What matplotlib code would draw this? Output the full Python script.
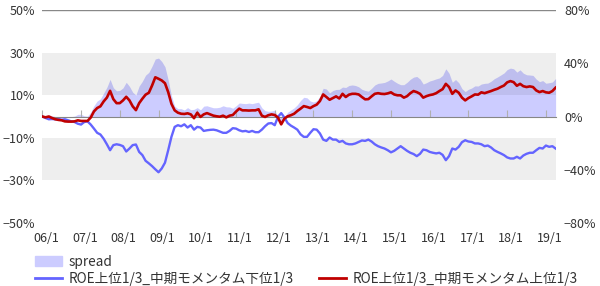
import matplotlib.pyplot as plt
import matplotlib.ticker as mticker
import matplotlib.transforms as mtransforms
from matplotlib.lines import Line2D
from matplotlib.patches import Patch
import numpy as np

plt.rcParams['font.family'] = ['Noto Sans CJK JP', 'DejaVu Sans']

# monthly cumulative returns (%), 2006/1 .. 2019/4
roe_mom_high = [
    0, -0.4, 0, -0.7, -1.3, -1.6, -1.8, -2.3, -2.4, -2.4, -2.3, -1.8, -2.1, -2.1, -2.1,
    -0.5, 2.4, 4.0, 4.8, 7.1, 8.9, 12.1, 8.2, 6.3, 6.3, 7.6, 9.3,
    7.6, 4.8, 3.0, 6.3, 8.4, 10.3, 11.2, 14.6, 18.5, 17.8, 17.0, 15.7, 11.5, 6.0, 2.9,
    1.8, 1.3, 1.2, 1.5, 1.0, -0.8, 1.8, -0.2, 1.0, 1.6, 1.0, 0.4,
    0.1, -0.1, 0.4, -0.4, 0.4, 0.7, 2.3, 3.7, 2.9, 2.9, 2.8, 2.9, 2.9, 3.4,
    0.4, -0.2, 0.6, 1.0, 0.7, -0.5, -3.7, -1.0, 0.1, 0.6, 1.3, 2.6, 3.7, 4.9,
    4.5, 4.0, 4.9, 5.6, 7.3, 10.4, 9.2, 7.9, 8.7, 9.5, 8.5, 10.7, 9.2, 10.3,
    10.7, 10.7, 10.4, 9.2, 8.1, 8.2, 9.5, 10.7, 11.0, 10.7, 10.6, 10.9, 11.4,
    10.4, 10.0, 10.0, 8.9, 9.6, 11.0, 12.0, 11.5, 10.7, 8.9, 9.6, 10.1, 10.4, 11.0,
    12.0, 12.9, 15.4, 13.9, 10.7, 12.3, 11.2, 8.9, 7.6, 8.7, 9.5, 10.4, 10.3,
    11.4, 11.0, 11.5, 12.0, 12.6, 13.1, 13.9, 14.6, 16.1, 16.7, 16.2, 14.5,
    15.4, 14.3, 13.9, 14.2, 13.9, 12.3, 11.5, 12.0, 11.4, 11.2, 12.0, 13.6,
]
roe_mom_low = [
    0, -0.7, -1.3, -1.2, -1.3, -1.2, -1.5, -1.3, -1.8, -2.3, -2.6, -3.4, -3.8, -2.6, -2.3,
    -3.8, -5.7, -7.7, -8.5, -10.5, -13.1, -15.9, -13.5, -13.1, -13.4, -14.0, -16.5,
    -15.1, -13.5, -13.2, -16.7, -18.2, -20.9, -22.1, -23.4, -24.9, -26.3, -24.5, -21.8,
    -15.9, -9.6, -4.9, -4.1, -4.6, -3.7, -5.2, -4.1, -6.2, -4.9, -5.2, -6.8, -6.5, -6.3, -6.2,
    -6.5, -7.1, -7.7, -7.7, -6.8, -5.5, -5.7, -6.5, -7.0, -6.8, -7.3, -6.8, -7.4, -7.4,
    -6.2, -4.6, -3.3, -3.1, -4.1, -0.2, 1.6, -0.5, -3.1, -4.3, -5.2, -6.2, -8.4, -9.6,
    -9.6, -7.7, -6.0, -6.2, -8.0, -10.9, -11.5, -9.9, -10.9, -10.9, -12.0, -11.5, -12.7,
    -13.1, -13.1, -12.7, -12.0, -11.3, -11.5, -10.9, -11.8, -13.1, -14.0, -14.6, -15.1, -15.9, -16.9,
    -16.2, -15.1, -14.0, -15.1, -16.2, -17.1, -17.7, -18.7, -17.6, -15.6, -15.9, -16.7, -17.1,
    -17.4, -17.1, -18.1, -20.6, -18.7, -15.1, -15.6, -14.3, -12.1, -11.2, -11.8, -12.0, -12.7, -12.7,
    -13.1, -14.0, -13.7, -14.6, -15.9, -16.7, -17.4, -18.2, -19.3, -19.8, -19.8, -19.0,
    -19.8, -18.4, -17.6, -17.1, -17.1, -15.9, -14.8, -15.1, -13.7, -14.3, -14.0, -15.1,
]
year_labels = ['06/1', '07/1', '08/1', '09/1', '10/1', '11/1', '12/1',
               '13/1', '14/1', '15/1', '16/1', '17/1', '18/1', '19/1']
label_low = 'ROE上位1/3_中期モメンタム下位1/3'
label_high = 'ROE上位1/3_中期モメンタム上位1/3'

x = np.arange(len(roe_mom_high))
spread = np.array(roe_mom_high) - np.array(roe_mom_low)

fig = plt.figure(figsize=(6, 2.86), dpi=100)
ax = fig.add_axes([0.0705, 0.222, 0.8555, 0.7413])
ax2 = ax.twinx()
ax.set_zorder(ax2.get_zorder() + 1)
ax.patch.set_visible(False)

# spread on the right axis
ax2.fill_between(x, 0, spread, color='#ccccff', lw=0)
ax2.set_ylim(-80, 80)
ax2.set_yticks([-80, -40, 0, 40, 80])
ax2.yaxis.set_major_formatter(mticker.StrMethodFormatter('{x:.0f}%'))
ax2.tick_params(axis='y', length=0, pad=6, labelsize=9, labelcolor='#333333')
for s in ax2.spines.values():
    s.set_visible(False)

# alternating bands + top gridline
for lo, hi in [(10, 30), (-30, -10)]:
    ax.axhspan(lo, hi, color='black', alpha=0.065, lw=0, zorder=0)
ax.axhline(50, color='#888888', lw=1, zorder=1)

ax.plot(x, roe_mom_low, color='#6464ff', lw=1.7, zorder=3)
ax.plot(x, roe_mom_high, color='#c00000', lw=1.9, zorder=4)

ax.set_xlim(0, len(x) - 1)
ax.set_ylim(-50, 50)
ax.set_yticks([-50, -30, -10, 10, 30, 50])
ax.yaxis.set_major_formatter(mticker.StrMethodFormatter('{x:.0f}%'))
ax.tick_params(axis='y', length=0, pad=5, labelsize=9, labelcolor='#333333')

for k in ['top', 'left', 'right']:
    ax.spines[k].set_visible(False)
ax.spines['bottom'].set_position(('data', 0))
ax.spines['bottom'].set_color('#868686')
ax.set_xticks(range(0, len(x), 12))
ax.tick_params(axis='x', direction='in', length=5, color='#b0b0b0', labelbottom=False)

sec = ax.secondary_xaxis('bottom')
sec.set_xticks(range(0, len(x), 12), labels=year_labels)
sec.tick_params(length=0, pad=7, labelsize=9, labelcolor='#333333')
sec.spines['bottom'].set_visible(False)
shift = mtransforms.ScaledTranslation(4 / 100, 0, fig.dpi_scale_trans)
for lbl in sec.get_xticklabels():
    lbl.set_transform(lbl.get_transform() + shift)

handles = [Patch(color='#ccccff'),
           Line2D([], [], color='#6464ff', lw=2),
           Line2D([], [], alpha=0),
           Line2D([], [], color='#c00000', lw=2)]
fig.legend(handles, ['spread', label_low, '', label_high], ncol=2,
           loc='upper left', bbox_to_anchor=(0.058, 0.11), frameon=False,
           fontsize=9.8, handlelength=2.0, handletextpad=0.45, columnspacing=1.9,
           labelspacing=0.22, borderpad=0, borderaxespad=0, labelcolor='#333333')

plt.savefig('out.png', dpi=100)
